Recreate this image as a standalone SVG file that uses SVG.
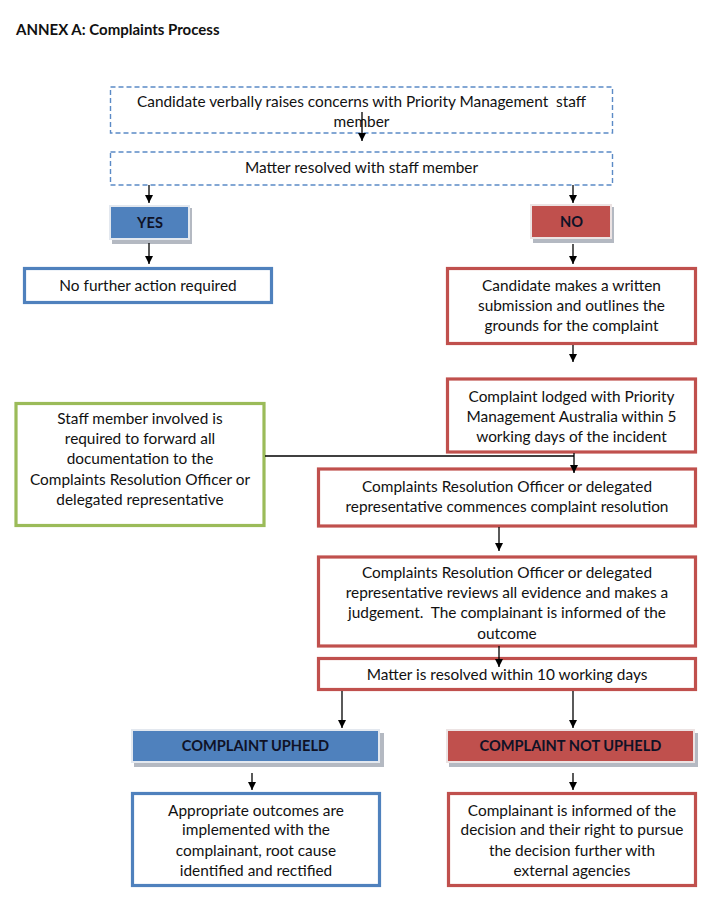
<svg xmlns="http://www.w3.org/2000/svg" width="711" height="909" viewBox="0 0 711 909">
<defs>
<style>
text{font-family:Lato,"Open Sans","Liberation Sans",sans-serif;font-size:15.4px;fill:#111;text-anchor:middle;white-space:pre}
.title{font-weight:bold;text-anchor:start;font-size:15px}
.lbl{font-weight:bold;font-size:14.6px;fill:#0f1226}
.dash{fill:#fff;stroke:#5b8ac6;stroke-width:1.4;stroke-dasharray:5 3}
.red{fill:#fff;stroke:#c0504d;stroke-width:3.2}
.blue{fill:#fff;stroke:#4f81bd;stroke-width:3.2}
.green{fill:#fff;stroke:#9bbb59;stroke-width:3.2}
.shadow{fill:#b4b9c2}
.bfill{fill:#4f81bd;stroke:#e3e8ef;stroke-width:2}
.rfill{fill:#c0504d;stroke:#ece3e3;stroke-width:2}
.conn{fill:none;stroke:#000;stroke-width:1.3}
</style>
<marker id="ah" markerUnits="userSpaceOnUse" markerWidth="9" markerHeight="8" refX="8" refY="4" orient="auto">
<path d="M0,0 L8,4 L0,8 z" fill="#000"/>
</marker>
</defs>
<rect width="711" height="909" fill="#fff"/>
<text class="title" x="16" y="35">ANNEX A: Complaints Process</text>

<g id="n1"><rect class="dash" x="110.5" y="87" width="502" height="46"/>
<text x="361.5" y="107" xml:space="preserve">Candidate verbally raises concerns with Priority Management  staff</text>
<text x="361.5" y="127">member</text></g>

<g id="n2"><rect class="dash" x="110.5" y="152" width="502" height="33"/>
<text x="361.5" y="173">Matter resolved with staff member</text></g>

<g id="yes"><rect class="shadow" x="112" y="208" width="80" height="36"/>
<rect class="bfill" x="110" y="206" width="79" height="33"/>
<text class="lbl" x="150" y="228">YES</text></g>

<g id="no"><rect class="shadow" x="533" y="207" width="81" height="36"/>
<rect class="rfill" x="531" y="205" width="80" height="33"/>
<text class="lbl" x="571.5" y="227">NO</text></g>

<g id="nfa"><rect class="blue" x="24.5" y="268.5" width="247" height="34"/>
<text x="148" y="291">No further action required</text></g>

<g id="cand"><rect class="red" x="447.5" y="268.5" width="248" height="75"/>
<text x="571.5" y="291">Candidate makes a written</text>
<text x="571.5" y="311">submission and outlines the</text>
<text x="571.5" y="331">grounds for the complaint</text></g>

<g id="lodged"><rect class="red" x="447.5" y="379" width="248" height="73"/>
<text x="571.5" y="402">Complaint lodged with Priority</text>
<text x="571.5" y="422">Management Australia within 5</text>
<text x="571.5" y="442">working days of the incident</text></g>

<g id="staff"><rect class="green" x="16" y="403.5" width="248" height="122"/>
<text x="140" y="424">Staff member involved is</text>
<text x="140" y="444">required to forward all</text>
<text x="140" y="464">documentation to the</text>
<text x="140" y="485">Complaints Resolution Officer or</text>
<text x="140" y="505">delegated representative</text></g>

<g id="cro"><rect class="red" x="318.5" y="469" width="377" height="57"/>
<text x="507" y="492">Complaints Resolution Officer or delegated</text>
<text x="507" y="512">representative commences complaint resolution</text></g>

<g id="review"><rect class="red" x="318.5" y="557" width="377" height="89"/>
<text x="507" y="578">Complaints Resolution Officer or delegated</text>
<text x="507" y="598">representative reviews all evidence and makes a</text>
<text x="507" y="618" xml:space="preserve">judgement.  The complainant is informed of the</text>
<text x="507" y="639">outcome</text></g>

<g id="matter"><rect class="red" x="318.5" y="658.5" width="377" height="31"/>
<text x="507" y="680">Matter is resolved within 10 working days</text></g>

<g id="upheld"><rect class="shadow" x="134" y="733" width="250" height="34"/>
<rect class="bfill" x="132" y="730" width="247" height="32"/>
<text class="lbl" x="255.5" y="751">COMPLAINT UPHELD</text></g>

<g id="notupheld"><rect class="shadow" x="449" y="733" width="249" height="34"/>
<rect class="rfill" x="447" y="730" width="247" height="32"/>
<text class="lbl" x="570.5" y="751">COMPLAINT NOT UPHELD</text></g>

<g id="outcomes"><rect class="blue" x="132.5" y="793.5" width="247" height="92"/>
<text x="256" y="816">Appropriate outcomes are</text>
<text x="256" y="835">implemented with the</text>
<text x="256" y="856">complainant, root cause</text>
<text x="256" y="876">identified and rectified</text></g>

<g id="informed"><rect class="red" x="448.5" y="793.5" width="247" height="92"/>
<text x="572" y="816">Complainant is informed of the</text>
<text x="572" y="835">decision and their right to pursue</text>
<text x="572" y="856">the decision further with</text>
<text x="572" y="876">external agencies</text></g>

<g id="connectors" class="conn">
<path class="conn" d="M362,112 V141" marker-end="url(#ah)"/>
<path class="conn" d="M149,185 V203" marker-end="url(#ah)"/>
<path class="conn" d="M573,185 V203" marker-end="url(#ah)"/>
<path class="conn" d="M149,243 V264" marker-end="url(#ah)"/>
<path class="conn" d="M573,244 V264" marker-end="url(#ah)"/>
<path class="conn" d="M573,345 V362" marker-end="url(#ah)"/>
<path class="conn" d="M265,456 H574"/>
<path class="conn" d="M574,453 V473" marker-end="url(#ah)"/>
<path class="conn" d="M499,527 V551" marker-end="url(#ah)"/>
<path class="conn" d="M499,646 V667" marker-end="url(#ah)"/>
<path class="conn" d="M342,691 V728" marker-end="url(#ah)"/>
<path class="conn" d="M573,691 V728" marker-end="url(#ah)"/>
<path class="conn" d="M252,773 V790" marker-end="url(#ah)"/>
<path class="conn" d="M573,773 V790" marker-end="url(#ah)"/>
</g>
</svg>
